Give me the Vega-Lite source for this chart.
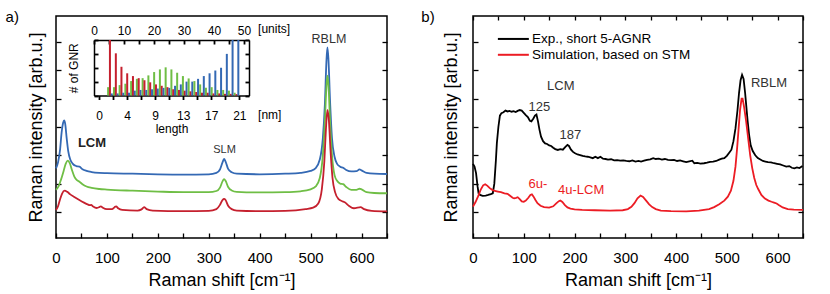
{
  "$schema": "https://vega.github.io/schema/vega-lite/v6.json",
  "background": "white",
  "padding": {"left": 4, "top": 9, "right": 0, "bottom": 0},
  "bounds": "flush",
  "spacing": 86,
  "config": {
    "font": "Liberation Sans",
    "view": {"stroke": "black", "strokeWidth": 1.5},
    "axis": {"labelFont": "Liberation Sans", "titleFont": "Liberation Sans", "labelColor": "black", "titleColor": "black", "tickColor": "black", "domainColor": "black", "grid": false, "titleFontWeight": "normal", "labelFontSize": 15, "titleFontSize": 18, "tickWidth": 1.3}
  },
  "resolve": {"scale": {"color": "independent"}, "legend": {"color": "independent"}},
  "datasets": {
    "ramanA": [
      {"x":0,"y":1.54,"s":"long"},{"x":4,"y":1.75,"s":"long"},{"x":8,"y":2.2,"s":"long"},{"x":11,"y":2.8,"s":"long"},{"x":14,"y":3.15,"s":"long"},{"x":16,"y":3.23,"s":"long"},{"x":18,"y":3.12,"s":"long"},{"x":21,"y":2.6,"s":"long"},{"x":24,"y":2.15,"s":"long"},{"x":28,"y":1.85,"s":"long"},{"x":33,"y":1.7,"s":"long"},{"x":40,"y":1.62,"s":"long"},{"x":46,"y":1.6,"s":"long"},{"x":52,"y":1.51,"s":"long"},{"x":60,"y":1.45,"s":"long"},{"x":70,"y":1.41,"s":"long"},{"x":85,"y":1.38,"s":"long"},{"x":100,"y":1.37,"s":"long"},{"x":150,"y":1.35,"s":"long"},{"x":200,"y":1.33,"s":"long"},{"x":250,"y":1.32,"s":"long"},{"x":300,"y":1.33,"s":"long"},{"x":315,"y":1.38,"s":"long"},{"x":322,"y":1.5,"s":"long"},{"x":327,"y":1.75,"s":"long"},{"x":330,"y":1.87,"s":"long"},{"x":333,"y":1.78,"s":"long"},{"x":338,"y":1.52,"s":"long"},{"x":345,"y":1.4,"s":"long"},{"x":355,"y":1.35,"s":"long"},{"x":400,"y":1.33,"s":"long"},{"x":450,"y":1.35,"s":"long"},{"x":480,"y":1.38,"s":"long"},{"x":500,"y":1.45,"s":"long"},{"x":510,"y":1.55,"s":"long"},{"x":518,"y":1.85,"s":"long"},{"x":524,"y":2.6,"s":"long"},{"x":528,"y":3.8,"s":"long"},{"x":531,"y":5.3,"s":"long"},{"x":533,"y":5.81,"s":"long"},{"x":535,"y":5.4,"s":"long"},{"x":538,"y":4.0,"s":"long"},{"x":542,"y":2.6,"s":"long"},{"x":547,"y":1.95,"s":"long"},{"x":552,"y":1.7,"s":"long"},{"x":558,"y":1.6,"s":"long"},{"x":564,"y":1.56,"s":"long"},{"x":570,"y":1.48,"s":"long"},{"x":580,"y":1.43,"s":"long"},{"x":590,"y":1.44,"s":"long"},{"x":596,"y":1.5,"s":"long"},{"x":600,"y":1.47,"s":"long"},{"x":610,"y":1.38,"s":"long"},{"x":625,"y":1.35,"s":"long"},{"x":650,"y":1.34,"s":"long"},
      {"x":0,"y":0.78,"s":"medium"},{"x":5,"y":0.9,"s":"medium"},{"x":10,"y":1.15,"s":"medium"},{"x":15,"y":1.45,"s":"medium"},{"x":19,"y":1.7,"s":"medium"},{"x":23,"y":1.81,"s":"medium"},{"x":27,"y":1.72,"s":"medium"},{"x":31,"y":1.5,"s":"medium"},{"x":36,"y":1.25,"s":"medium"},{"x":41,"y":1.12,"s":"medium"},{"x":46,"y":1.07,"s":"medium"},{"x":52,"y":0.98,"s":"medium"},{"x":60,"y":0.9,"s":"medium"},{"x":70,"y":0.85,"s":"medium"},{"x":85,"y":0.81,"s":"medium"},{"x":100,"y":0.79,"s":"medium"},{"x":150,"y":0.75,"s":"medium"},{"x":200,"y":0.72,"s":"medium"},{"x":250,"y":0.7,"s":"medium"},{"x":300,"y":0.7,"s":"medium"},{"x":315,"y":0.74,"s":"medium"},{"x":322,"y":0.86,"s":"medium"},{"x":327,"y":1.08,"s":"medium"},{"x":330,"y":1.16,"s":"medium"},{"x":333,"y":1.1,"s":"medium"},{"x":338,"y":0.88,"s":"medium"},{"x":345,"y":0.76,"s":"medium"},{"x":355,"y":0.71,"s":"medium"},{"x":400,"y":0.69,"s":"medium"},{"x":450,"y":0.7,"s":"medium"},{"x":480,"y":0.73,"s":"medium"},{"x":500,"y":0.8,"s":"medium"},{"x":510,"y":0.9,"s":"medium"},{"x":518,"y":1.2,"s":"medium"},{"x":524,"y":2.0,"s":"medium"},{"x":528,"y":3.2,"s":"medium"},{"x":531,"y":4.4,"s":"medium"},{"x":533,"y":4.81,"s":"medium"},{"x":535,"y":4.5,"s":"medium"},{"x":538,"y":3.3,"s":"medium"},{"x":542,"y":2.0,"s":"medium"},{"x":547,"y":1.3,"s":"medium"},{"x":552,"y":1.1,"s":"medium"},{"x":558,"y":1.0,"s":"medium"},{"x":564,"y":0.98,"s":"medium"},{"x":570,"y":0.88,"s":"medium"},{"x":580,"y":0.78,"s":"medium"},{"x":590,"y":0.78,"s":"medium"},{"x":596,"y":0.82,"s":"medium"},{"x":600,"y":0.8,"s":"medium"},{"x":610,"y":0.7,"s":"medium"},{"x":625,"y":0.67,"s":"medium"},{"x":650,"y":0.66,"s":"medium"},
      {"x":0,"y":0.07,"s":"short"},{"x":4,"y":0.2,"s":"short"},{"x":8,"y":0.45,"s":"short"},{"x":12,"y":0.65,"s":"short"},{"x":17,"y":0.75,"s":"short"},{"x":22,"y":0.71,"s":"short"},{"x":28,"y":0.62,"s":"short"},{"x":35,"y":0.54,"s":"short"},{"x":45,"y":0.43,"s":"short"},{"x":55,"y":0.33,"s":"short"},{"x":62,"y":0.27,"s":"short"},{"x":66,"y":0.24,"s":"short"},{"x":69,"y":0.25,"s":"short"},{"x":73,"y":0.19,"s":"short"},{"x":80,"y":0.14,"s":"short"},{"x":85,"y":0.17,"s":"short"},{"x":88,"y":0.2,"s":"short"},{"x":92,"y":0.15,"s":"short"},{"x":100,"y":0.1,"s":"short"},{"x":110,"y":0.1,"s":"short"},{"x":115,"y":0.17,"s":"short"},{"x":118,"y":0.2,"s":"short"},{"x":122,"y":0.13,"s":"short"},{"x":130,"y":0.07,"s":"short"},{"x":160,"y":0.05,"s":"short"},{"x":168,"y":0.09,"s":"short"},{"x":173,"y":0.17,"s":"short"},{"x":178,"y":0.1,"s":"short"},{"x":190,"y":0.05,"s":"short"},{"x":250,"y":0.03,"s":"short"},{"x":300,"y":0.04,"s":"short"},{"x":315,"y":0.1,"s":"short"},{"x":322,"y":0.25,"s":"short"},{"x":327,"y":0.42,"s":"short"},{"x":330,"y":0.46,"s":"short"},{"x":333,"y":0.42,"s":"short"},{"x":338,"y":0.22,"s":"short"},{"x":345,"y":0.1,"s":"short"},{"x":355,"y":0.05,"s":"short"},{"x":400,"y":0.03,"s":"short"},{"x":450,"y":0.04,"s":"short"},{"x":490,"y":0.1,"s":"short"},{"x":505,"y":0.15,"s":"short"},{"x":515,"y":0.3,"s":"short"},{"x":522,"y":0.8,"s":"short"},{"x":527,"y":1.8,"s":"short"},{"x":530,"y":2.9,"s":"short"},{"x":533,"y":3.6,"s":"short"},{"x":536,"y":3.2,"s":"short"},{"x":539,"y":2.2,"s":"short"},{"x":543,"y":1.2,"s":"short"},{"x":548,"y":0.7,"s":"short"},{"x":555,"y":0.45,"s":"short"},{"x":562,"y":0.38,"s":"short"},{"x":567,"y":0.34,"s":"short"},{"x":575,"y":0.22,"s":"short"},{"x":585,"y":0.13,"s":"short"},{"x":595,"y":0.16,"s":"short"},{"x":598,"y":0.17,"s":"short"},{"x":605,"y":0.1,"s":"short"},{"x":620,"y":0.04,"s":"short"},{"x":650,"y":0.02,"s":"short"}
    ],
    "gnr": [
      {"u":3.25,"n":0.6,"s":"medium"},{"u":3.9,"n":4.2,"s":"short"},{"u":4.55,"n":0.15,"s":"long"},
      {"u":5.35,"n":0.6,"s":"medium"},{"u":6.0,"n":3.04,"s":"short"},{"u":6.65,"n":0.15,"s":"long"},
      {"u":7.35,"n":0.75,"s":"medium"},{"u":8.0,"n":2.07,"s":"short"},{"u":8.65,"n":0.2,"s":"long"},
      {"u":9.4,"n":0.85,"s":"medium"},{"u":10.05,"n":1.6,"s":"short"},{"u":10.7,"n":0.2,"s":"long"},
      {"u":11.45,"n":1.04,"s":"medium"},{"u":12.1,"n":1.4,"s":"short"},{"u":12.75,"n":0.35,"s":"long"},
      {"u":13.5,"n":1.2,"s":"medium"},{"u":14.15,"n":1.25,"s":"short"},{"u":14.8,"n":0.4,"s":"long"},
      {"u":15.55,"n":1.25,"s":"medium"},{"u":16.2,"n":1.1,"s":"short"},{"u":16.85,"n":0.4,"s":"long"},
      {"u":17.6,"n":1.45,"s":"medium"},{"u":18.25,"n":0.95,"s":"short"},{"u":18.9,"n":0.45,"s":"long"},
      {"u":19.65,"n":1.69,"s":"medium"},{"u":20.3,"n":0.8,"s":"short"},{"u":20.95,"n":0.5,"s":"long"},
      {"u":21.7,"n":1.88,"s":"medium"},{"u":22.35,"n":0.7,"s":"short"},{"u":23.0,"n":0.55,"s":"long"},
      {"u":23.75,"n":2.03,"s":"medium"},{"u":24.4,"n":0.6,"s":"short"},{"u":25.05,"n":0.55,"s":"long"},
      {"u":25.8,"n":1.88,"s":"medium"},{"u":26.45,"n":0.45,"s":"short"},{"u":27.1,"n":0.7,"s":"long"},
      {"u":27.85,"n":1.64,"s":"medium"},{"u":28.5,"n":0.4,"s":"short"},{"u":29.15,"n":0.8,"s":"long"},
      {"u":29.9,"n":1.4,"s":"medium"},{"u":30.55,"n":0.35,"s":"short"},{"u":31.2,"n":1.0,"s":"long"},
      {"u":31.95,"n":1.23,"s":"medium"},{"u":32.6,"n":0.3,"s":"short"},{"u":33.25,"n":1.0,"s":"long"},
      {"u":34.0,"n":1.04,"s":"medium"},{"u":34.65,"n":0.25,"s":"short"},{"u":35.3,"n":1.2,"s":"long"},
      {"u":36.05,"n":0.8,"s":"medium"},{"u":36.7,"n":0.2,"s":"short"},{"u":37.35,"n":1.4,"s":"long"},
      {"u":38.1,"n":0.56,"s":"medium"},{"u":38.75,"n":0.2,"s":"short"},{"u":39.4,"n":1.6,"s":"long"},
      {"u":40.15,"n":0.6,"s":"medium"},{"u":40.8,"n":0.15,"s":"short"},{"u":41.45,"n":1.8,"s":"long"},
      {"u":42.2,"n":0.4,"s":"medium"},{"u":42.85,"n":0.15,"s":"short"},{"u":43.5,"n":2.0,"s":"long"},
      {"u":44.25,"n":0.4,"s":"medium"},{"u":44.9,"n":0.12,"s":"short"},{"u":45.55,"n":3.0,"s":"long"},
      {"u":46.3,"n":0.35,"s":"medium"},{"u":46.95,"n":0.12,"s":"short"},{"u":47.6,"n":4.2,"s":"long"},
      {"u":48.35,"n":0.2,"s":"medium"},{"u":49.0,"n":0.1,"s":"short"},{"u":49.65,"n":4.2,"s":"long"}
    ],
    "ramanB": [
      {"x":0,"y":1.7,"s":"Exp., short 5-AGNR"},{"x":3,"y":1.6,"s":"Exp., short 5-AGNR"},{"x":6,"y":1.37,"s":"Exp., short 5-AGNR"},{"x":9,"y":0.9,"s":"Exp., short 5-AGNR"},{"x":11,"y":0.66,"s":"Exp., short 5-AGNR"},{"x":14,"y":0.6,"s":"Exp., short 5-AGNR"},{"x":19,"y":0.57,"s":"Exp., short 5-AGNR"},{"x":25,"y":0.58,"s":"Exp., short 5-AGNR"},{"x":30,"y":0.6,"s":"Exp., short 5-AGNR"},{"x":35,"y":0.63,"s":"Exp., short 5-AGNR"},{"x":39,"y":0.66,"s":"Exp., short 5-AGNR"},{"x":42,"y":1.0,"s":"Exp., short 5-AGNR"},{"x":45,"y":1.8,"s":"Exp., short 5-AGNR"},{"x":47,"y":2.43,"s":"Exp., short 5-AGNR"},{"x":50,"y":3.0,"s":"Exp., short 5-AGNR"},{"x":53,"y":3.4,"s":"Exp., short 5-AGNR"},{"x":56,"y":3.49,"s":"Exp., short 5-AGNR"},{"x":60,"y":3.52,"s":"Exp., short 5-AGNR"},{"x":64,"y":3.58,"s":"Exp., short 5-AGNR"},{"x":68,"y":3.55,"s":"Exp., short 5-AGNR"},{"x":72,"y":3.57,"s":"Exp., short 5-AGNR"},{"x":76,"y":3.54,"s":"Exp., short 5-AGNR"},{"x":80,"y":3.56,"s":"Exp., short 5-AGNR"},{"x":84,"y":3.53,"s":"Exp., short 5-AGNR"},{"x":88,"y":3.57,"s":"Exp., short 5-AGNR"},{"x":92,"y":3.6,"s":"Exp., short 5-AGNR"},{"x":96,"y":3.58,"s":"Exp., short 5-AGNR"},{"x":100,"y":3.5,"s":"Exp., short 5-AGNR"},{"x":104,"y":3.42,"s":"Exp., short 5-AGNR"},{"x":108,"y":3.35,"s":"Exp., short 5-AGNR"},{"x":112,"y":3.22,"s":"Exp., short 5-AGNR"},{"x":115,"y":3.2,"s":"Exp., short 5-AGNR"},{"x":119,"y":3.3,"s":"Exp., short 5-AGNR"},{"x":122,"y":3.4,"s":"Exp., short 5-AGNR"},{"x":125,"y":3.44,"s":"Exp., short 5-AGNR"},{"x":128,"y":3.2,"s":"Exp., short 5-AGNR"},{"x":131,"y":2.9,"s":"Exp., short 5-AGNR"},{"x":134,"y":2.66,"s":"Exp., short 5-AGNR"},{"x":138,"y":2.5,"s":"Exp., short 5-AGNR"},{"x":142,"y":2.42,"s":"Exp., short 5-AGNR"},{"x":146,"y":2.4,"s":"Exp., short 5-AGNR"},{"x":150,"y":2.35,"s":"Exp., short 5-AGNR"},{"x":154,"y":2.33,"s":"Exp., short 5-AGNR"},{"x":158,"y":2.27,"s":"Exp., short 5-AGNR"},{"x":162,"y":2.22,"s":"Exp., short 5-AGNR"},{"x":167,"y":2.19,"s":"Exp., short 5-AGNR"},{"x":172,"y":2.22,"s":"Exp., short 5-AGNR"},{"x":177,"y":2.2,"s":"Exp., short 5-AGNR"},{"x":182,"y":2.3,"s":"Exp., short 5-AGNR"},{"x":186,"y":2.37,"s":"Exp., short 5-AGNR"},{"x":189,"y":2.33,"s":"Exp., short 5-AGNR"},{"x":193,"y":2.2,"s":"Exp., short 5-AGNR"},{"x":197,"y":2.12,"s":"Exp., short 5-AGNR"},{"x":201,"y":2.07,"s":"Exp., short 5-AGNR"},{"x":206,"y":2.03,"s":"Exp., short 5-AGNR"},{"x":211,"y":2.01,"s":"Exp., short 5-AGNR"},{"x":216,"y":1.98,"s":"Exp., short 5-AGNR"},{"x":221,"y":1.96,"s":"Exp., short 5-AGNR"},{"x":226,"y":1.95,"s":"Exp., short 5-AGNR"},{"x":231,"y":1.93,"s":"Exp., short 5-AGNR"},{"x":236,"y":1.9,"s":"Exp., short 5-AGNR"},{"x":241,"y":1.95,"s":"Exp., short 5-AGNR"},{"x":246,"y":1.9,"s":"Exp., short 5-AGNR"},{"x":251,"y":1.95,"s":"Exp., short 5-AGNR"},{"x":256,"y":1.88,"s":"Exp., short 5-AGNR"},{"x":261,"y":1.87,"s":"Exp., short 5-AGNR"},{"x":266,"y":1.85,"s":"Exp., short 5-AGNR"},{"x":272,"y":1.86,"s":"Exp., short 5-AGNR"},{"x":278,"y":1.82,"s":"Exp., short 5-AGNR"},{"x":284,"y":1.83,"s":"Exp., short 5-AGNR"},{"x":290,"y":1.81,"s":"Exp., short 5-AGNR"},{"x":296,"y":1.82,"s":"Exp., short 5-AGNR"},{"x":302,"y":1.8,"s":"Exp., short 5-AGNR"},{"x":308,"y":1.79,"s":"Exp., short 5-AGNR"},{"x":314,"y":1.82,"s":"Exp., short 5-AGNR"},{"x":320,"y":1.78,"s":"Exp., short 5-AGNR"},{"x":326,"y":1.8,"s":"Exp., short 5-AGNR"},{"x":331,"y":1.78,"s":"Exp., short 5-AGNR"},{"x":337,"y":1.81,"s":"Exp., short 5-AGNR"},{"x":343,"y":1.84,"s":"Exp., short 5-AGNR"},{"x":349,"y":1.86,"s":"Exp., short 5-AGNR"},{"x":355,"y":1.9,"s":"Exp., short 5-AGNR"},{"x":360,"y":1.87,"s":"Exp., short 5-AGNR"},{"x":366,"y":1.88,"s":"Exp., short 5-AGNR"},{"x":372,"y":1.85,"s":"Exp., short 5-AGNR"},{"x":378,"y":1.87,"s":"Exp., short 5-AGNR"},{"x":384,"y":1.84,"s":"Exp., short 5-AGNR"},{"x":390,"y":1.83,"s":"Exp., short 5-AGNR"},{"x":396,"y":1.84,"s":"Exp., short 5-AGNR"},{"x":402,"y":1.8,"s":"Exp., short 5-AGNR"},{"x":408,"y":1.82,"s":"Exp., short 5-AGNR"},{"x":414,"y":1.79,"s":"Exp., short 5-AGNR"},{"x":420,"y":1.76,"s":"Exp., short 5-AGNR"},{"x":426,"y":1.79,"s":"Exp., short 5-AGNR"},{"x":432,"y":1.81,"s":"Exp., short 5-AGNR"},{"x":436,"y":1.72,"s":"Exp., short 5-AGNR"},{"x":442,"y":1.73,"s":"Exp., short 5-AGNR"},{"x":448,"y":1.71,"s":"Exp., short 5-AGNR"},{"x":455,"y":1.72,"s":"Exp., short 5-AGNR"},{"x":461,"y":1.74,"s":"Exp., short 5-AGNR"},{"x":467,"y":1.77,"s":"Exp., short 5-AGNR"},{"x":473,"y":1.78,"s":"Exp., short 5-AGNR"},{"x":479,"y":1.8,"s":"Exp., short 5-AGNR"},{"x":485,"y":1.85,"s":"Exp., short 5-AGNR"},{"x":490,"y":1.88,"s":"Exp., short 5-AGNR"},{"x":495,"y":1.9,"s":"Exp., short 5-AGNR"},{"x":500,"y":1.98,"s":"Exp., short 5-AGNR"},{"x":505,"y":2.1,"s":"Exp., short 5-AGNR"},{"x":509,"y":2.2,"s":"Exp., short 5-AGNR"},{"x":513,"y":2.5,"s":"Exp., short 5-AGNR"},{"x":517,"y":2.95,"s":"Exp., short 5-AGNR"},{"x":521,"y":3.6,"s":"Exp., short 5-AGNR"},{"x":524,"y":4.2,"s":"Exp., short 5-AGNR"},{"x":527,"y":4.65,"s":"Exp., short 5-AGNR"},{"x":530,"y":4.84,"s":"Exp., short 5-AGNR"},{"x":533,"y":4.7,"s":"Exp., short 5-AGNR"},{"x":536,"y":4.2,"s":"Exp., short 5-AGNR"},{"x":538,"y":3.8,"s":"Exp., short 5-AGNR"},{"x":541,"y":3.2,"s":"Exp., short 5-AGNR"},{"x":544,"y":2.7,"s":"Exp., short 5-AGNR"},{"x":547,"y":2.35,"s":"Exp., short 5-AGNR"},{"x":551,"y":2.15,"s":"Exp., short 5-AGNR"},{"x":556,"y":2.0,"s":"Exp., short 5-AGNR"},{"x":561,"y":1.9,"s":"Exp., short 5-AGNR"},{"x":566,"y":1.85,"s":"Exp., short 5-AGNR"},{"x":571,"y":1.8,"s":"Exp., short 5-AGNR"},{"x":576,"y":1.78,"s":"Exp., short 5-AGNR"},{"x":581,"y":1.76,"s":"Exp., short 5-AGNR"},{"x":587,"y":1.75,"s":"Exp., short 5-AGNR"},{"x":593,"y":1.72,"s":"Exp., short 5-AGNR"},{"x":599,"y":1.7,"s":"Exp., short 5-AGNR"},{"x":605,"y":1.68,"s":"Exp., short 5-AGNR"},{"x":611,"y":1.64,"s":"Exp., short 5-AGNR"},{"x":617,"y":1.6,"s":"Exp., short 5-AGNR"},{"x":623,"y":1.62,"s":"Exp., short 5-AGNR"},{"x":628,"y":1.56,"s":"Exp., short 5-AGNR"},{"x":633,"y":1.54,"s":"Exp., short 5-AGNR"},{"x":638,"y":1.57,"s":"Exp., short 5-AGNR"},{"x":643,"y":1.55,"s":"Exp., short 5-AGNR"},{"x":649,"y":1.62,"s":"Exp., short 5-AGNR"},
      {"x":0,"y":0.19,"s":"Simulation, based on STM"},{"x":5,"y":0.35,"s":"Simulation, based on STM"},{"x":10,"y":0.55,"s":"Simulation, based on STM"},{"x":15,"y":0.78,"s":"Simulation, based on STM"},{"x":20,"y":0.94,"s":"Simulation, based on STM"},{"x":24,"y":0.98,"s":"Simulation, based on STM"},{"x":28,"y":0.93,"s":"Simulation, based on STM"},{"x":33,"y":0.84,"s":"Simulation, based on STM"},{"x":38,"y":0.78,"s":"Simulation, based on STM"},{"x":43,"y":0.74,"s":"Simulation, based on STM"},{"x":49,"y":0.72,"s":"Simulation, based on STM"},{"x":55,"y":0.7,"s":"Simulation, based on STM"},{"x":62,"y":0.66,"s":"Simulation, based on STM"},{"x":68,"y":0.64,"s":"Simulation, based on STM"},{"x":73,"y":0.57,"s":"Simulation, based on STM"},{"x":78,"y":0.5,"s":"Simulation, based on STM"},{"x":81,"y":0.48,"s":"Simulation, based on STM"},{"x":85,"y":0.5,"s":"Simulation, based on STM"},{"x":88,"y":0.52,"s":"Simulation, based on STM"},{"x":92,"y":0.45,"s":"Simulation, based on STM"},{"x":96,"y":0.37,"s":"Simulation, based on STM"},{"x":100,"y":0.36,"s":"Simulation, based on STM"},{"x":104,"y":0.4,"s":"Simulation, based on STM"},{"x":109,"y":0.5,"s":"Simulation, based on STM"},{"x":113,"y":0.6,"s":"Simulation, based on STM"},{"x":116,"y":0.62,"s":"Simulation, based on STM"},{"x":119,"y":0.55,"s":"Simulation, based on STM"},{"x":123,"y":0.42,"s":"Simulation, based on STM"},{"x":127,"y":0.31,"s":"Simulation, based on STM"},{"x":133,"y":0.22,"s":"Simulation, based on STM"},{"x":140,"y":0.17,"s":"Simulation, based on STM"},{"x":150,"y":0.15,"s":"Simulation, based on STM"},{"x":158,"y":0.2,"s":"Simulation, based on STM"},{"x":164,"y":0.3,"s":"Simulation, based on STM"},{"x":169,"y":0.38,"s":"Simulation, based on STM"},{"x":172,"y":0.4,"s":"Simulation, based on STM"},{"x":176,"y":0.35,"s":"Simulation, based on STM"},{"x":181,"y":0.24,"s":"Simulation, based on STM"},{"x":186,"y":0.16,"s":"Simulation, based on STM"},{"x":192,"y":0.12,"s":"Simulation, based on STM"},{"x":200,"y":0.09,"s":"Simulation, based on STM"},{"x":215,"y":0.07,"s":"Simulation, based on STM"},{"x":240,"y":0.06,"s":"Simulation, based on STM"},{"x":270,"y":0.05,"s":"Simulation, based on STM"},{"x":295,"y":0.06,"s":"Simulation, based on STM"},{"x":305,"y":0.1,"s":"Simulation, based on STM"},{"x":312,"y":0.18,"s":"Simulation, based on STM"},{"x":318,"y":0.31,"s":"Simulation, based on STM"},{"x":324,"y":0.48,"s":"Simulation, based on STM"},{"x":330,"y":0.58,"s":"Simulation, based on STM"},{"x":335,"y":0.53,"s":"Simulation, based on STM"},{"x":341,"y":0.4,"s":"Simulation, based on STM"},{"x":347,"y":0.27,"s":"Simulation, based on STM"},{"x":353,"y":0.17,"s":"Simulation, based on STM"},{"x":360,"y":0.1,"s":"Simulation, based on STM"},{"x":370,"y":0.05,"s":"Simulation, based on STM"},{"x":390,"y":0.03,"s":"Simulation, based on STM"},{"x":420,"y":0.02,"s":"Simulation, based on STM"},{"x":445,"y":0.05,"s":"Simulation, based on STM"},{"x":465,"y":0.1,"s":"Simulation, based on STM"},{"x":475,"y":0.17,"s":"Simulation, based on STM"},{"x":485,"y":0.27,"s":"Simulation, based on STM"},{"x":495,"y":0.4,"s":"Simulation, based on STM"},{"x":502,"y":0.54,"s":"Simulation, based on STM"},{"x":508,"y":0.75,"s":"Simulation, based on STM"},{"x":513,"y":1.1,"s":"Simulation, based on STM"},{"x":517,"y":1.6,"s":"Simulation, based on STM"},{"x":520,"y":2.2,"s":"Simulation, based on STM"},{"x":523,"y":2.9,"s":"Simulation, based on STM"},{"x":526,"y":3.6,"s":"Simulation, based on STM"},{"x":529,"y":4.0,"s":"Simulation, based on STM"},{"x":531,"y":4.0,"s":"Simulation, based on STM"},{"x":534,"y":3.7,"s":"Simulation, based on STM"},{"x":538,"y":3.2,"s":"Simulation, based on STM"},{"x":542,"y":2.6,"s":"Simulation, based on STM"},{"x":546,"y":2.0,"s":"Simulation, based on STM"},{"x":550,"y":1.55,"s":"Simulation, based on STM"},{"x":554,"y":1.2,"s":"Simulation, based on STM"},{"x":558,"y":0.95,"s":"Simulation, based on STM"},{"x":562,"y":0.8,"s":"Simulation, based on STM"},{"x":568,"y":0.6,"s":"Simulation, based on STM"},{"x":575,"y":0.47,"s":"Simulation, based on STM"},{"x":582,"y":0.4,"s":"Simulation, based on STM"},{"x":588,"y":0.36,"s":"Simulation, based on STM"},{"x":593,"y":0.33,"s":"Simulation, based on STM"},{"x":598,"y":0.3,"s":"Simulation, based on STM"},{"x":603,"y":0.24,"s":"Simulation, based on STM"},{"x":610,"y":0.16,"s":"Simulation, based on STM"},{"x":620,"y":0.1,"s":"Simulation, based on STM"},{"x":632,"y":0.08,"s":"Simulation, based on STM"},{"x":650,"y":0.07,"s":"Simulation, based on STM"}
    ],
    "legendB": [
      {"s":"Exp., short 5-AGNR","y":6.11},
      {"s":"Simulation, based on STM","y":5.55}
    ],
    "labelsA": [
      {"x":536,"y":6.11,"t":"RBLM","k":"main"},
      {"x":331,"y":2.19,"t":"SLM","k":"small"},
      {"x":-86,"y":6.89,"t":"a)","k":"panel"}
    ],
    "labelsB": [
      {"x":173,"y":4.45,"t":"LCM"},
      {"x":130.6,"y":3.72,"t":"125"},
      {"x":191.7,"y":2.72,"t":"187"},
      {"x":583,"y":4.55,"t":"RBLM"}
    ],
    "labelsBred": [
      {"x":128,"y":0.99,"t":"6u-"},
      {"x":213,"y":0.78,"t":"4u-LCM"}
    ],
    "insetText": [
      {"u":54.7,"n":4.78,"t":"[units]"},
      {"u":54.7,"n":-1.4,"t":"[nm]"}
    ]
  },
  "hconcat": [
    {
      "width": 331,
      "height": 222,
      "layer": [
        {
          "data": {"name": "ramanA"},
          "mark": {"type": "line", "strokeWidth": 1.8, "interpolate": "monotone"},
          "encoding": {
            "x": {"field": "x", "type": "quantitative", "scale": {"domain": [0, 650], "nice": false, "zero": false},
              "axis": {"orient": "bottom", "values": [0,50,100,150,200,250,300,350,400,450,500,550,600,650], "labelExpr": "datum.value % 100 == 0 ? datum.label : ''", "tickSize": -5, "labelPadding": 17, "domain": false, "title": "Raman shift [cm⁻¹]", "titlePadding": 6, "labelFlush": false}},
            "y": {"field": "y", "type": "quantitative", "scale": {"domain": [-0.92, 6.92], "nice": false, "zero": false},
              "axis": {"orient": "left", "values": [0,1,2,3,4,5,6], "labels": false, "tickSize": -5, "domain": false, "title": "Raman intensity [arb.u.]", "titlePadding": 10}},
            "color": {"field": "s", "type": "nominal", "scale": {"domain": ["long", "medium", "short"], "range": ["#3469b4", "#6fbe45", "#c5202e"]}, "legend": null}
          }
        },
        {
          "data": {"name": "ramanA"},
          "mark": {"type": "point", "opacity": 0},
          "encoding": {
            "x": {"field": "x", "type": "quantitative", "scale": {"domain": [0, 650], "nice": false, "zero": false}, "axis": null},
            "y": {"field": "y", "type": "quantitative", "scale": {"domain": [-0.92, 6.92], "nice": false, "zero": false},
              "axis": {"orient": "right", "values": [0,1,2,3,4,5,6], "labels": false, "tickSize": -5, "domain": false, "title": null}}
          }
        },
        {
          "data": {"name": "labelsA"},
          "transform": [{"filter": "datum.k == 'main'"}],
          "mark": {"type": "text", "fontSize": 12.5, "color": "#333", "font": "Liberation Sans"},
          "encoding": {
            "x": {"field": "x", "type": "quantitative", "scale": {"domain": [0, 650], "nice": false, "zero": false}, "axis": null},
            "y": {"field": "y", "type": "quantitative", "scale": {"domain": [-0.92, 6.92], "nice": false, "zero": false}, "axis": null},
            "text": {"field": "t"}
          }
        },
        {
          "data": {"name": "labelsA"},
          "transform": [{"filter": "datum.k == 'small'"}],
          "mark": {"type": "text", "fontSize": 11, "color": "#333", "font": "Liberation Sans"},
          "encoding": {
            "x": {"field": "x", "type": "quantitative", "scale": {"domain": [0, 650], "nice": false, "zero": false}, "axis": null},
            "y": {"field": "y", "type": "quantitative", "scale": {"domain": [-0.92, 6.92], "nice": false, "zero": false}, "axis": null},
            "text": {"field": "t"}
          }
        },
        {
          "data": {"values": [{"x": 70.7, "y": 2.45, "t": "LCM"}]},
          "mark": {"type": "text", "fontSize": 13, "fontWeight": "bold", "color": "#222", "font": "Liberation Sans"},
          "encoding": {
            "x": {"field": "x", "type": "quantitative", "scale": {"domain": [0, 650], "nice": false, "zero": false}, "axis": null},
            "y": {"field": "y", "type": "quantitative", "scale": {"domain": [-0.92, 6.92], "nice": false, "zero": false}, "axis": null},
            "text": {"field": "t"}
          }
        },
        {
          "data": {"name": "labelsA"},
          "transform": [{"filter": "datum.k == 'panel'"}],
          "mark": {"type": "text", "fontSize": 15, "color": "black", "font": "Liberation Sans"},
          "encoding": {
            "x": {"field": "x", "type": "quantitative", "scale": {"domain": [0, 650], "nice": false, "zero": false}, "axis": null},
            "y": {"field": "y", "type": "quantitative", "scale": {"domain": [-0.92, 6.92], "nice": false, "zero": false}, "axis": null},
            "text": {"field": "t"}
          }
        },
        {
          "data": {"name": "gnr"},
          "mark": {"type": "bar", "width": 2},
          "encoding": {
            "x": {"field": "u", "type": "quantitative", "scale": {"domain": [0, 51.67], "range": [38, 193], "nice": false, "zero": false},
              "axis": {"orient": "bottom", "offset": -142.5, "values": [0,5,10,15,20,25,30,35,40,45,50], "labelExpr": "datum.value == 0 ? '0' : datum.value == 10 ? '4' : datum.value == 20 ? '9' : datum.value == 30 ? '13' : datum.value == 40 ? '17' : datum.value == 50 ? '21' : ''", "tickSize": 4, "tickWidth": 1.8, "labelPadding": 11, "labelFontSize": 12, "labelFlush": false, "domainWidth": 1.5, "title": "length", "titleFontSize": 12, "titlePadding": 2}},
            "y": {"field": "n", "type": "quantitative", "scale": {"domain": [0, 4], "range": [79.5, 24], "nice": false, "zero": true, "clamp": true},
              "axis": {"orient": "left", "offset": -38, "values": [0,1,2,3,4], "labels": false, "tickSize": -4, "tickWidth": 1.8, "domainWidth": 1.5, "title": "# of GNR", "titleFontSize": 12, "titlePadding": 13}},
            "color": {"field": "s", "type": "nominal", "scale": {"domain": ["long", "medium", "short"], "range": ["#3469b4", "#6fbe45", "#c5202e"]}, "legend": null}
          }
        },
        {
          "data": {"name": "gnr"},
          "mark": {"type": "point", "opacity": 0},
          "encoding": {
            "x": {"field": "u", "type": "quantitative", "scale": {"domain": [0, 51.67], "range": [38, 193], "nice": false, "zero": false},
              "axis": {"orient": "top", "offset": -24, "values": [0,5,10,15,20,25,30,35,40,45,50], "labelExpr": "datum.value % 10 == 0 ? datum.label : ''", "tickSize": -4, "tickWidth": 1.8, "labelPadding": 7, "labelFontSize": 12, "labelFlush": false, "domainWidth": 1.5, "title": null}},
            "y": {"field": "n", "type": "quantitative", "scale": {"domain": [0, 4], "range": [79.5, 24], "nice": false, "zero": true},
              "axis": {"orient": "right", "offset": -138, "values": [0,1,2,3,4], "labels": false, "tickSize": -4, "tickWidth": 1.8, "domainWidth": 1.5, "title": null}}
          }
        },
        {
          "data": {"name": "insetText"},
          "mark": {"type": "text", "fontSize": 12, "align": "left", "color": "black", "font": "Liberation Sans"},
          "encoding": {
            "x": {"field": "u", "type": "quantitative", "scale": {"domain": [0, 51.67], "range": [38, 193], "nice": false, "zero": false}, "axis": null},
            "y": {"field": "n", "type": "quantitative", "scale": {"domain": [0, 4], "range": [79.5, 24], "nice": false, "zero": true}, "axis": null},
            "text": {"field": "t"}
          }
        }
      ],
      "resolve": {"scale": {"x": "independent", "y": "independent"}, "axis": {"x": "independent", "y": "independent"}}
    },
    {
      "width": 330,
      "height": 222,
      "layer": [
        {
          "data": {"name": "ramanB"},
          "mark": {"type": "line", "strokeWidth": 1.8},
          "encoding": {
            "x": {"field": "x", "type": "quantitative", "scale": {"domain": [0, 650], "nice": false, "zero": false},
              "axis": {"orient": "bottom", "values": [0,50,100,150,200,250,300,350,400,450,500,550,600,650], "labelExpr": "datum.value % 100 == 0 ? datum.label : ''", "tickSize": -5, "labelPadding": 17, "domain": false, "title": "Raman shift [cm⁻¹]", "titlePadding": 6, "labelFlush": false}},
            "y": {"field": "y", "type": "quantitative", "scale": {"domain": [-0.92, 6.92], "nice": false, "zero": false},
              "axis": {"orient": "left", "values": [0,1,2,3,4,5,6], "labels": false, "tickSize": -5, "domain": false, "title": "Raman intensity [arb.u.]", "titlePadding": 12}},
            "color": {"field": "s", "type": "nominal", "scale": {"domain": ["Exp., short 5-AGNR", "Simulation, based on STM"], "range": ["#000000", "#ec1c24"]}, "legend": null}
          }
        },
        {
          "data": {"name": "ramanB"},
          "mark": {"type": "point", "opacity": 0},
          "encoding": {
            "x": {"field": "x", "type": "quantitative", "scale": {"domain": [0, 650], "nice": false, "zero": false},
              "axis": {"orient": "top", "values": [0,50,100,150,200,250,300,350,400,450,500,550,600,650], "labels": false, "tickSize": -4, "domain": false, "title": null}},
            "y": {"field": "y", "type": "quantitative", "scale": {"domain": [-0.92, 6.92], "nice": false, "zero": false},
              "axis": {"orient": "right", "values": [0,1,2,3,4,5,6], "labels": false, "tickSize": -5, "domain": false, "title": null}}
          }
        },
        {
          "data": {"name": "legendB"},
          "mark": {"type": "rule", "strokeWidth": 2},
          "encoding": {
            "x": {"datum": 49, "type": "quantitative", "scale": {"domain": [0, 650], "nice": false, "zero": false}, "axis": null},
            "x2": {"datum": 110},
            "y": {"field": "y", "type": "quantitative", "scale": {"domain": [-0.92, 6.92], "nice": false, "zero": false}, "axis": null},
            "color": {"field": "s", "type": "nominal", "scale": {"domain": ["Exp., short 5-AGNR", "Simulation, based on STM"], "range": ["#000000", "#ec1c24"]}, "legend": null}
          }
        },
        {
          "data": {"name": "legendB"},
          "mark": {"type": "text", "fontSize": 13.5, "align": "left", "baseline": "middle", "color": "black", "font": "Liberation Sans"},
          "encoding": {
            "x": {"datum": 116, "type": "quantitative", "scale": {"domain": [0, 650], "nice": false, "zero": false}, "axis": null},
            "y": {"field": "y", "type": "quantitative", "scale": {"domain": [-0.92, 6.92], "nice": false, "zero": false}, "axis": null},
            "text": {"field": "s"}
          }
        },
        {
          "data": {"name": "labelsB"},
          "mark": {"type": "text", "fontSize": 13, "color": "#333", "font": "Liberation Sans"},
          "encoding": {
            "x": {"field": "x", "type": "quantitative", "scale": {"domain": [0, 650], "nice": false, "zero": false}, "axis": null},
            "y": {"field": "y", "type": "quantitative", "scale": {"domain": [-0.92, 6.92], "nice": false, "zero": false}, "axis": null},
            "text": {"field": "t"}
          }
        },
        {
          "data": {"name": "labelsBred"},
          "mark": {"type": "text", "fontSize": 13, "color": "#ec1c24", "font": "Liberation Sans"},
          "encoding": {
            "x": {"field": "x", "type": "quantitative", "scale": {"domain": [0, 650], "nice": false, "zero": false}, "axis": null},
            "y": {"field": "y", "type": "quantitative", "scale": {"domain": [-0.92, 6.92], "nice": false, "zero": false}, "axis": null},
            "text": {"field": "t"}
          }
        },
        {
          "data": {"values": [{"x": -88.6, "y": 6.89, "t": "b)"}]},
          "mark": {"type": "text", "fontSize": 15, "color": "black", "font": "Liberation Sans"},
          "encoding": {
            "x": {"field": "x", "type": "quantitative", "scale": {"domain": [0, 650], "nice": false, "zero": false}, "axis": null},
            "y": {"field": "y", "type": "quantitative", "scale": {"domain": [-0.92, 6.92], "nice": false, "zero": false}, "axis": null},
            "text": {"field": "t"}
          }
        }
      ],
      "resolve": {"axis": {"x": "independent", "y": "independent"}}
    }
  ]
}
